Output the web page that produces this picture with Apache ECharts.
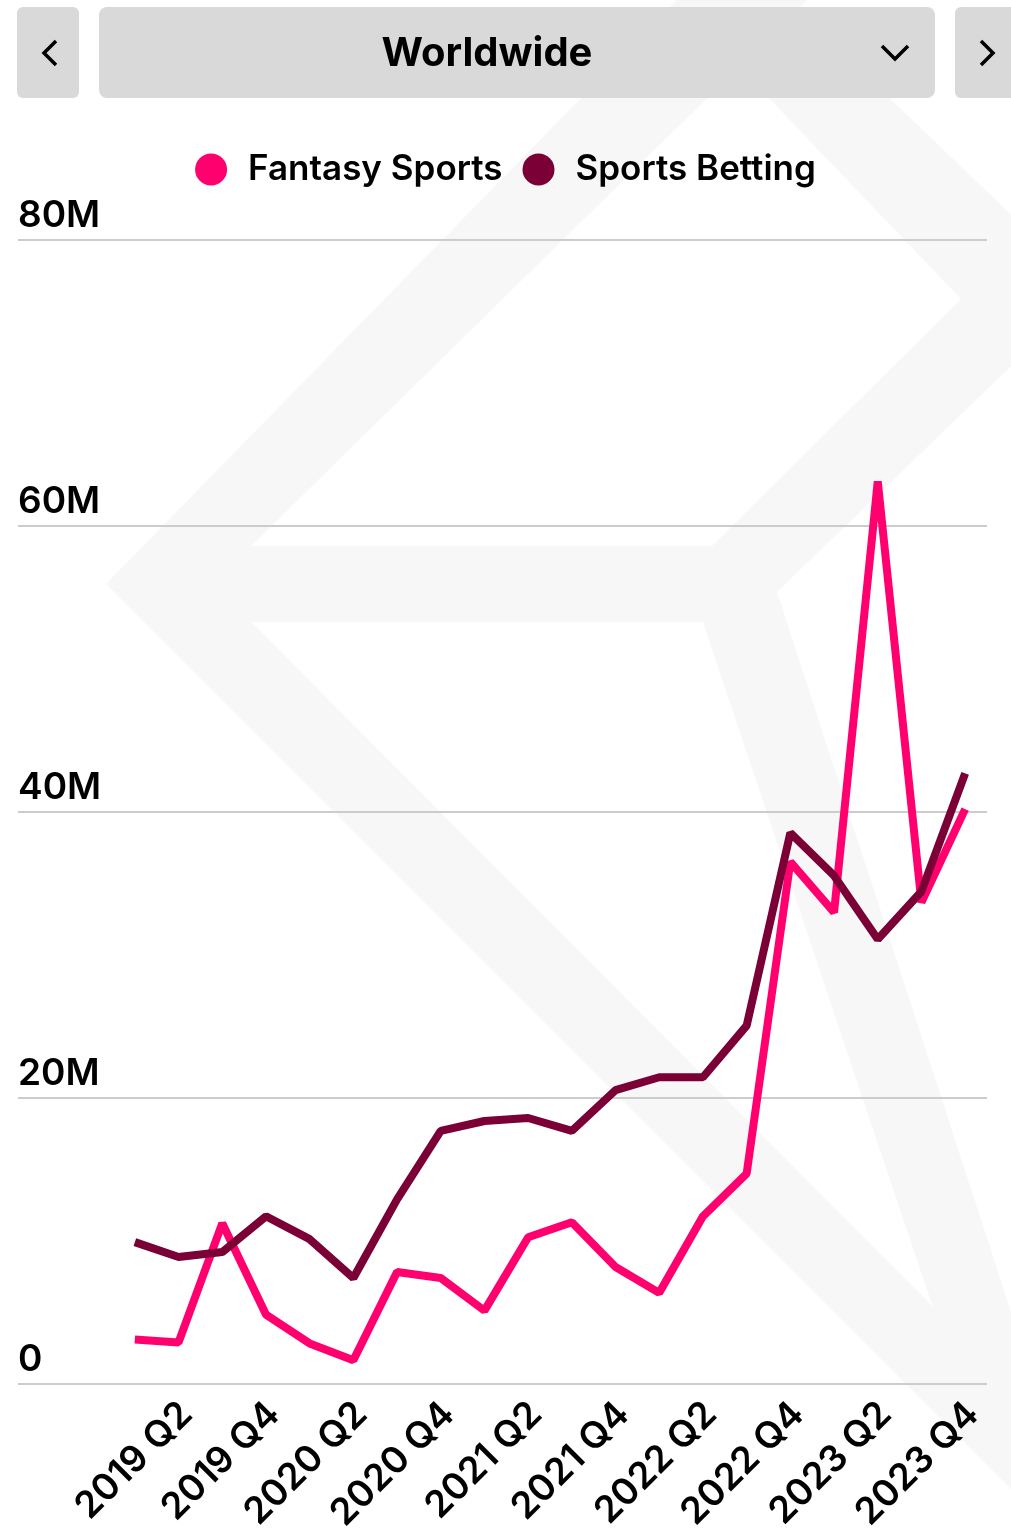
<!DOCTYPE html>
<html>
<head>
<meta charset="utf-8">
<script src="https://cdn.jsdelivr.net/npm/echarts@6/dist/echarts.min.js"></script>
<style>
html,body{margin:0;padding:0;background:#fff;}
#chart{width:1011px;height:1535px;}
</style>
</head>
<body>
<div id="chart"></div>
<script>
const categories = ['2019 Q1','2019 Q2','2019 Q3','2019 Q4','2020 Q1','2020 Q2','2020 Q3','2020 Q4','2021 Q1','2021 Q2','2021 Q3','2021 Q4','2022 Q1','2022 Q2','2022 Q3','2022 Q4','2023 Q1','2023 Q2','2023 Q3','2023 Q4'];
const fantasySports = [2.59,2.38,10.77,4.34,2.31,1.12,7.34,6.92,4.62,9.79,10.84,7.69,5.87,11.26,14.27,36.22,32.66,63.0,33.36,39.93].map(v=>v*1e6);
const sportsBetting = [9.44,8.39,8.74,11.26,9.65,6.92,12.45,17.27,17.97,18.18,17.27,20.14,21.05,21.05,24.69,38.25,35.24,30.77,34.13,42.45].map(v=>v*1e6);
const yTicks = [0,20e6,40e6,60e6,80e6];
const seriesNames = ['Fantasy Sports','Sports Betting'];
const regionTitle = 'Worldwide';

const FONT = 'Inter';
const PINK = '#ff006e';
const MAROON = '#7b0036';
const WM = '#f7f7f7';

const chart = echarts.init(document.getElementById('chart'), null, {renderer:'canvas'});

const wm = (pts) => ({type:'polygon', z:-10, silent:true, shape:{points:pts}, style:{fill:WM}});

chart.setOption({
  animation:false,
  backgroundColor:'#ffffff',
  textStyle:{fontFamily:FONT},
  graphic:[
    wm([[677,0],[807,0],[251,546],[106,584]]),
    wm([[106,584],[251,546],[251,622]]),
    wm([[251,546],[712,546],[777,592],[703,622],[251,622]]),
    wm([[106,584],[251,622],[1011,1385],[1011,1489]]),
    wm([[703,622],[777,592],[1011,1312],[1011,1489],[930,1299]]),
    wm([[675,0],[787,0],[1090,290],[777,592],[712,546],[961,299]]),
    {type:'rect', shape:{x:17,y:7,width:62,height:91,r:6}, style:{fill:'#d9d9d9'}},
    {type:'rect', shape:{x:99,y:7,width:836,height:91,r:8}, style:{fill:'#d9d9d9'}},
    {type:'rect', shape:{x:955,y:7,width:70,height:91,r:6}, style:{fill:'#d9d9d9'}},
    {type:'polyline', shape:{points:[[56,41],[44,53],[56,65]]}, style:{stroke:'#000',lineWidth:3.5,fill:null}},
    {type:'polyline', shape:{points:[[981,41],[993,53],[981,65]]}, style:{stroke:'#000',lineWidth:3.5,fill:null}},
    {type:'polyline', shape:{points:[[882,46],[895,59],[908,46]]}, style:{stroke:'#000',lineWidth:3.5,fill:null}},
    {type:'text', x:487, y:54, style:{text:regionTitle, font:'700 40px '+FONT, fill:'#000', align:'center', verticalAlign:'middle'}}
  ],
  legend:{
    top:147, left:'center',
    icon:'circle', itemWidth:32, itemHeight:32, itemGap:20,
    textStyle:{fontFamily:FONT, fontSize:35, fontWeight:600, color:'#000', padding:[0,0,0,16]},
    data:seriesNames
  },
  grid:[
    {left:18, right:24, top:240, bottom:151},
    {left:113, right:24, top:240, bottom:151}
  ],
  xAxis:[
    {gridIndex:0, type:'value', show:false, min:0, max:1},
    {gridIndex:1, type:'category', data:categories, boundaryGap:true,
     axisLine:{show:false}, axisTick:{show:false},
     axisLabel:{interval:(i)=>i%2===1, rotate:45, margin:40, padding:[0,-11,0,0],
       fontFamily:FONT, fontSize:37, fontWeight:600, color:'#000'}}
  ],
  yAxis:[
    {gridIndex:0, type:'value', min:0, max:80e6, interval:20e6,
     axisLine:{show:false}, axisTick:{show:false},
     splitLine:{show:true, lineStyle:{color:'#cccccc', width:2}},
     axisLabel:{inside:true, verticalAlign:'bottom', margin:0, padding:[0,0,6,0],
       fontFamily:FONT, fontSize:37, fontWeight:600, color:'#000',
       formatter:(v)=> yTicks.includes(v) ? (v===0?'0':(v/1e6)+'M') : ''}},
    {gridIndex:1, type:'value', min:0, max:80e6, interval:20e6, show:false, splitLine:{show:false}}
  ],
  series:[
    {name:seriesNames[0], type:'line', xAxisIndex:1, yAxisIndex:1, data:fantasySports,
     showSymbol:false, symbol:'circle', color:PINK, lineStyle:{width:8, color:PINK}, z:3},
    {name:seriesNames[1], type:'line', xAxisIndex:1, yAxisIndex:1, data:sportsBetting,
     showSymbol:false, symbol:'circle', color:MAROON, lineStyle:{width:8, color:MAROON}, z:4}
  ]
});
</script>
</body>
</html>
